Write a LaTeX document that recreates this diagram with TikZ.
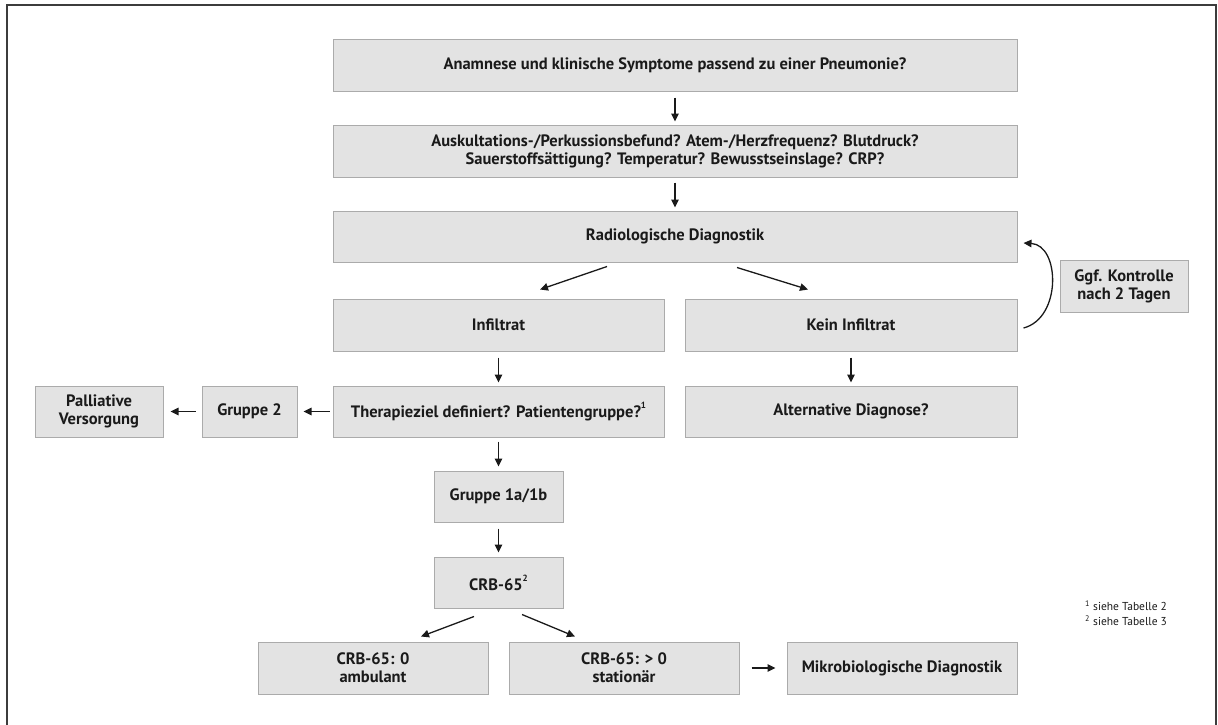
\documentclass[tikz,border=0pt]{standalone}
\usepackage{fontspec}
\setmainfont{PT Sans}
\usetikzlibrary{calc, arrows.meta}
\definecolor{boxfill}{HTML}{E3E3E3}
\definecolor{boxline}{HTML}{ABABAB}
\definecolor{ink}{HTML}{1A1A1A}
\newcommand{\fnmark}[1]{\raisebox{0.55em}{\fontsize{9}{9}\selectfont #1}}
\tikzset{
  kasten/.style={draw=boxline, fill=boxfill, line width=1pt, align=center, inner sep=0pt,
    text=ink, font=\fontsize{16.5}{18}\selectfont\bfseries},
  pfeil/.style={-{Triangle[length=8pt,width=7.5pt]}, line width=1.3pt, draw=ink},
}
\begin{document}
\begin{tikzpicture}[x=1pt,y=-1pt]
        \useasboundingbox (0,0) rectangle (1218,724);
        %Rahmen
        \draw[line width=1.5pt, draw=ink!85] (7,730) -- (7,5) -- (1216,5) -- (1216,730);
        %Kaesten oben
        \node[kasten, minimum width=684pt, minimum height=52pt] (anamnese) at (675,65) {Anamnese und klinische Symptome passend zu einer Pneumonie?};
        \node[kasten, minimum width=684pt, minimum height=52pt] (befund) at (675,151) {Auskultations-/Perkussionsbefund? Atem-/Herzfrequenz? Blutdruck?\\Sauerstoffsättigung? Temperatur? Bewusstseinslage? CRP?};
        \node[kasten, minimum width=684pt, minimum height=51pt] (radio) at (675,236.5) {Radiologische Diagnostik};
        \node[kasten, minimum width=128pt, minimum height=52pt] (kontrolle) at (1124,286) {Ggf. Kontrolle\\nach 2 Tagen};
        %Infiltrat / kein Infiltrat
        \node[kasten, minimum width=331pt, minimum height=52pt] (infiltrat) at (498.5,325) {Infiltrat};
        \node[kasten, minimum width=332pt, minimum height=52pt] (kein) at (851,325) {Kein Infiltrat};
        \node[kasten, minimum width=331pt, minimum height=51pt] (therapie) at (498.5,411.5) {Therapieziel definiert? Patientengruppe?\fnmark{1}};
        \node[kasten, minimum width=332pt, minimum height=51pt] (alternativ) at (851,411.5) {Alternative Diagnose?};
        \node[kasten, minimum width=95pt, minimum height=51pt] (gruppezwei) at (249.5,411.5) {Gruppe 2};
        \node[kasten, minimum width=128pt, minimum height=51pt] (palliativ) at (99,411.5) {Palliative\\Versorgung};
        %Gruppe 1 und CRB-65
        \node[kasten, minimum width=129pt, minimum height=51pt] (gruppeeins) at (498.5,496.5) {Gruppe 1a/1b};
        \node[kasten, minimum width=129pt, minimum height=51pt] (crb) at (498.5,582.5) {CRB-65\fnmark{2}};
        \node[kasten, minimum width=230pt, minimum height=52pt] (crbnull) at (373,668) {CRB-65: 0\\ambulant};
        \node[kasten, minimum width=230pt, minimum height=52pt] (crbplus) at (624,668) {CRB-65: > 0\\stationär};
        \node[kasten, minimum width=230pt, minimum height=52pt] (mikro) at (902,668) {Mikrobiologische Diagnostik};
        %Fussnoten
        \node[anchor=west, align=left, inner sep=0pt, text=ink, font=\fontsize{11.5}{15}\selectfont] (fussnote) at (1085,613.5) {\textsuperscript{1} siehe Tabelle 2\\\textsuperscript{2} siehe Tabelle 3};
        %Pfeile senkrecht
        \draw[pfeil, shorten <=6pt, shorten >=3pt] (anamnese) -- (befund);
        \draw[pfeil, shorten <=5pt, shorten >=3pt] (befund) -- (radio);
        \draw[pfeil, shorten <=6pt, shorten >=3pt] (infiltrat) -- (therapie);
        \draw[pfeil, shorten <=6pt, shorten >=3pt] (kein) -- (alternativ);
        \draw[pfeil, shorten <=4pt, shorten >=4pt] (therapie) -- (gruppeeins);
        \draw[pfeil, shorten <=6pt, shorten >=4pt] (gruppeeins) -- (crb);
        %Pfeile schraeg
        \draw[pfeil] ($(radio.south)+(-68,4)$) -- ($(infiltrat.north)+(41.5,-9)$);
        \draw[pfeil] ($(radio.south)+(62,5)$) -- ($(kein.north)+(-43,-9)$);
        \draw[pfeil] ($(crb.south)+(-24.5,8)$) -- ($(crbnull.north)+(48,-5)$);
        \draw[pfeil] ($(crb.south)+(23.5,6)$) -- ($(crbplus.north)+(-49,-5)$);
        %Pfeile waagerecht
        \draw[pfeil, shorten <=3pt, shorten >=6pt] (therapie) -- (gruppezwei);
        \draw[pfeil, shorten <=6pt, shorten >=7pt] (gruppezwei) -- (palliativ);
        \draw[pfeil, shorten <=12pt, shorten >=11pt] (crbplus) -- (mikro);
        %Kontrolle
        \draw[pfeil] ($(kein.east)+(6,3)$) .. controls (1062,318) and (1060,245) .. ($(radio.east)+(6,6.5)$);
\end{tikzpicture}
\end{document}
